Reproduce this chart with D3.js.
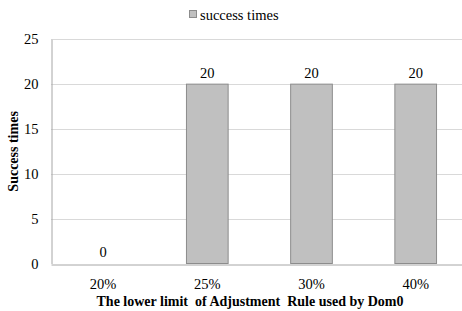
<!DOCTYPE html>
<html>
<head>
<meta charset="utf-8">
<script src="https://cdn.jsdelivr.net/npm/d3@7"></script>
<style>
  body { margin: 0; background: #fff; }
  svg { display: block; }
</style>
</head>
<body>
<div id="container"></div>
<script>
// data
const categories = ["20%", "25%", "30%", "40%"];
const successTimes = [0, 20, 20, 20];
const yTicks = [0, 5, 10, 15, 20, 25];
const seriesName = "success times";

const width = 462, height = 311;
const margin = {top: 39.3, left: 51, bottom: 263.5, right: 467.8};
const font = "'Liberation Serif', 'Times New Roman', serif";

const svg = d3.select("#container").append("svg")
  .attr("width", width)
  .attr("height", height);

// SCALES
const xScale = d3.scaleBand()
  .domain(categories)
  .range([margin.left, margin.right])
  .paddingInner(0.6)
  .paddingOuter(0.3);

const yScale = d3.scaleLinear()
  .domain([0, 25])
  .range([margin.bottom, margin.top]);

// gridlines
svg.append("g")
  .selectAll("line")
  .data(yTicks.filter(d => d > 0))
  .enter().append("line")
    .attr("x1", margin.left)
    .attr("x2", margin.right)
    .attr("y1", d => Math.round(yScale(d)) + 0.5)
    .attr("y2", d => Math.round(yScale(d)) + 0.5)
    .attr("stroke", "#d9d9d9")
    .attr("stroke-width", 1);

// y axis
const yAxis = d3.axisLeft(yScale)
  .tickValues(yTicks)
  .tickSize(0)
  .tickPadding(13);

svg.append("g")
  .attr("transform", `translate(${margin.left + 0.5},0)`)
  .call(yAxis)
  .call(g => g.select(".domain").attr("stroke", "#a6a6a6"))
  .call(g => g.selectAll("text")
    .style("font-family", font)
    .style("font-size", "14.5px")
    .attr("fill", "#000"));

// bars
svg.append("g")
  .selectAll("rect")
  .data(successTimes)
  .enter().append("rect")
    .attr("x", (d, i) => xScale(categories[i]))
    .attr("y", d => yScale(d))
    .attr("width", xScale.bandwidth())
    .attr("height", d => yScale(0) - yScale(d))
    .attr("fill", "#c0c0c0")
    .attr("stroke", "#8c8c8c")
    .attr("stroke-width", 1);

// x axis line
const xAxis = d3.axisBottom(xScale)
  .tickSize(0)
  .tickPadding(14);

svg.append("g")
  .attr("transform", `translate(0,${Math.round(margin.bottom) + 0.5})`)
  .call(xAxis)
  .call(g => g.select(".domain").attr("stroke", "#a6a6a6"))
  .call(g => g.selectAll("text")
    .attr("dy", null)
    .attr("y", 24)
    .style("font-family", font)
    .style("font-size", "14.5px")
    .attr("fill", "#000"));

// value labels
svg.append("g")
  .selectAll("text")
  .data(successTimes)
  .enter().append("text")
    .attr("x", (d, i) => xScale(categories[i]) + xScale.bandwidth() / 2)
    .attr("y", d => yScale(d) - 6.5)
    .attr("text-anchor", "middle")
    .style("font-family", font)
    .style("font-size", "14.5px")
    .text(d => d);

// axis titles
svg.append("text")
  .attr("transform", `translate(18,${(margin.top + margin.bottom) / 2}) rotate(-90)`)
  .attr("text-anchor", "middle")
  .style("font-family", font)
  .style("font-size", "14px")
  .style("font-weight", "bold")
  .text("Success times");

svg.append("text")
  .attr("x", 250)
  .attr("y", 306)
  .attr("text-anchor", "middle")
  .style("font-family", font)
  .style("font-size", "14px")
  .style("font-weight", "bold")
  .style("white-space", "pre")
  .text("The lower limit  of Adjustment  Rule used by Dom0");

// legend
const legend = svg.append("g");
legend.append("rect")
  .attr("x", 189.5)
  .attr("y", 10.5)
  .attr("width", 7)
  .attr("height", 7)
  .attr("fill", "#c0c0c0")
  .attr("stroke", "#8c8c8c");
legend.append("text")
  .attr("x", 200)
  .attr("y", 20)
  .style("font-family", font)
  .style("font-size", "14.5px")
  .text(seriesName);
</script>
</body>
</html>
